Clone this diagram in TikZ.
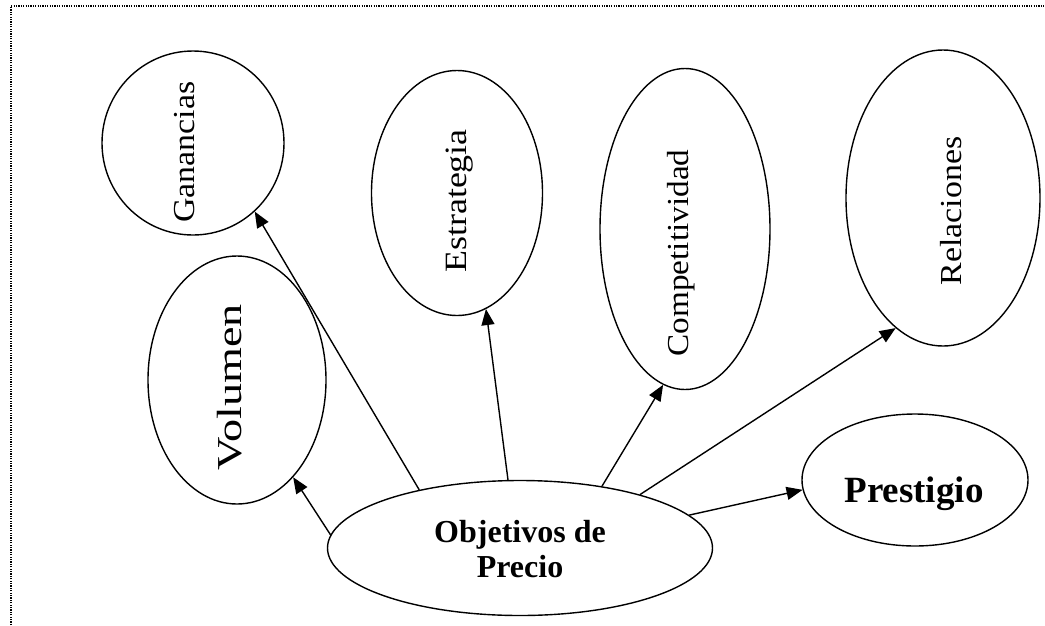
\documentclass[tikz,border=0pt]{standalone}
\usepackage{fontspec}
\setmainfont{Liberation Serif}
\newfontfamily\stretchg[FakeStretch=1.11]{Liberation Serif}
\newfontfamily\stretche[FakeStretch=1.16]{Liberation Serif}
\newfontfamily\stretchc[FakeStretch=1.09]{Liberation Serif}
\newfontfamily\stretchv[FakeStretch=1.32]{Liberation Serif}
\usetikzlibrary{shapes.geometric,arrows.meta}
\tikzset{
  oval/.style={draw,ellipse,line width=1.4pt,inner sep=0pt},
  vlabel/.style={rotate=90,inner sep=0pt},
  link/.style={line width=1.4pt,-{Triangle[length=16pt,width=13pt]}},
  frame/.style={line width=1.3pt,dash pattern=on 1.2pt off 1.2pt}
}
\begin{document}
\begin{tikzpicture}[x=1pt,y=-1pt]
\useasboundingbox (0,0) rectangle (1045,625);
\draw[frame] (11,625) -- (11,6) -- (1045,6);
% ellipses
\node[oval,minimum width=182pt,minimum height=184pt] (gan) at (193,143) {};
\node[oval,minimum width=178pt,minimum height=248pt] (vol) at (237,380) {};
\node[oval,minimum width=171pt,minimum height=245pt] (est) at (457,193) {};
\node[oval,minimum width=170pt,minimum height=321pt] (com) at (685,229) {};
\node[oval,minimum width=194pt,minimum height=296pt] (rel) at (943,198) {};
\node[oval,minimum width=226pt,minimum height=132pt] (pre) at (915,480) {};
\node[oval,minimum width=385pt,minimum height=135pt] (obj) at (520,548) {};
% labels
\node[vlabel,font=\stretchg\fontsize{30.5}{36}\selectfont] (tgan) at (185,152) {Ganancias};
\node[vlabel,font=\stretchv\fontsize{35}{42}\selectfont] (tvol) at (230,387) {Volumen};
\node[vlabel,font=\stretche\fontsize{31}{36}\selectfont] (test) at (460,201) {Estrategia};
\node[vlabel,font=\stretchc\fontsize{30.5}{36}\selectfont] (tcom) at (681,253) {Competitividad};
\node[vlabel,font=\stretchg\fontsize{30.5}{36}\selectfont] (trel) at (951,211) {Relaciones};
\node[anchor=base,inner sep=0pt,font=\bfseries\fontsize{37}{40}\selectfont] (tpre) at (914,502) {Prestigio};
\node[align=center,inner sep=0pt,font=\bfseries\fontsize{32}{35}\selectfont] (tobj) at (520,549) {Objetivos de\\Precio};
% connectors
\draw[link] (obj.176.7) -- (vol.-60.9);
\draw[link] (obj.150.8) -- (gan.-48.9);
\draw[link] (obj.100.8) -- (est.-76.7);
\draw[link] (obj.37.1) -- (com.-98.5);
\draw[link] (obj.24.5) -- (rel.-110.3);
\draw[link] (obj.11.8) -- (pre.185.6);
\end{tikzpicture}
\end{document}
